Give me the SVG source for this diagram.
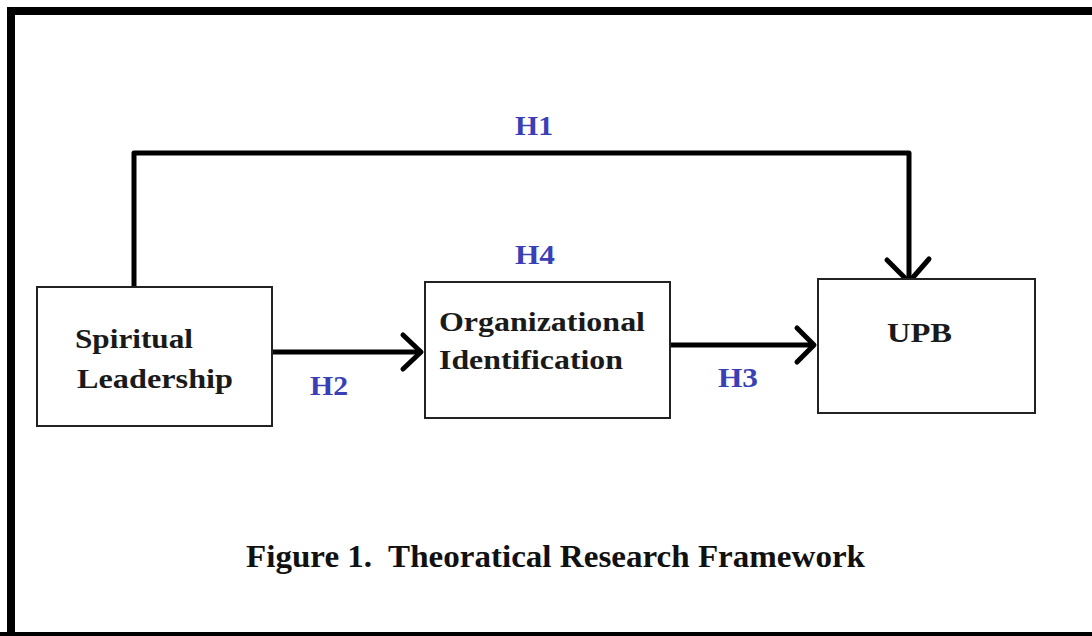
<svg xmlns="http://www.w3.org/2000/svg" width="1092" height="636" viewBox="0 0 1092 636">
<style>
.node{fill:#fff;stroke:#222;stroke-width:2}
.lbl{font-family:"Liberation Serif","Times New Roman",serif;font-weight:bold;font-size:27px;fill:#1a1a1a}
.hyp{font-family:"Liberation Serif","Times New Roman",serif;font-weight:bold;font-size:28px;fill:#3b3fb5}
.cap{font-family:"Liberation Serif","Times New Roman",serif;font-weight:bold;font-size:32px;fill:#111}
.conn{fill:none;stroke:#000;stroke-width:5;stroke-linecap:round;stroke-linejoin:round}
</style>
<rect x="0" y="0" width="1092" height="636" fill="#fff"/>
<path d="M11 636 V11 H1092" fill="none" stroke="#000" stroke-width="8"/>
<line x1="0" y1="634.5" x2="1092" y2="634.5" stroke="#000" stroke-width="5"/>
<g id="connectors">
<polyline class="conn" points="134,287 134,153 909,153 909,281"/>
<polyline class="conn" points="887,260 909,282 929,259"/>
<line class="conn" x1="272" y1="352" x2="420" y2="352"/>
<polyline class="conn" points="403,335 421,352 403,369"/>
<line class="conn" x1="670" y1="345" x2="813" y2="345"/>
<polyline class="conn" points="797,328 814,345 797,362"/>
<text class="hyp" x="515" y="135" textLength="38" lengthAdjust="spacingAndGlyphs">H1</text>
<text class="hyp" x="310" y="395" textLength="38" lengthAdjust="spacingAndGlyphs">H2</text>
<text class="hyp" x="718" y="387" textLength="40" lengthAdjust="spacingAndGlyphs">H3</text>
<text class="hyp" x="515" y="264" textLength="40" lengthAdjust="spacingAndGlyphs">H4</text>
</g>
<g id="spiritual-leadership">
<rect class="node" x="37" y="287" width="235" height="139"/>
<text class="lbl" x="75" y="348" textLength="118" lengthAdjust="spacingAndGlyphs">Spiritual</text>
<text class="lbl" x="77" y="388" textLength="156" lengthAdjust="spacingAndGlyphs">Leadership</text>
</g>
<g id="organizational-identification">
<rect class="node" x="425" y="282" width="245" height="136"/>
<text class="lbl" x="439" y="331" textLength="206" lengthAdjust="spacingAndGlyphs">Organizational</text>
<text class="lbl" x="439" y="369" textLength="184" lengthAdjust="spacingAndGlyphs">Identification</text>
</g>
<g id="upb">
<rect class="node" x="818" y="279" width="217" height="134"/>
<text class="lbl" x="887" y="342" textLength="65" lengthAdjust="spacingAndGlyphs">UPB</text>
</g>
<text class="cap" x="246" y="567" textLength="619" lengthAdjust="spacingAndGlyphs" xml:space="preserve">Figure 1.  Theoratical Research Framework</text>
</svg>
